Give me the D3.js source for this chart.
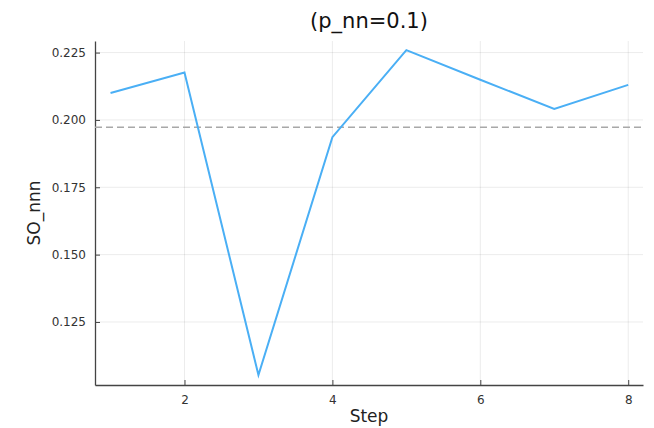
<!DOCTYPE html>
<html>
<head>
<meta charset="utf-8">
<script src="https://cdn.jsdelivr.net/npm/d3@7"></script>
<style>
  body { margin: 0; background: #fff; }
  svg { font-family: "DejaVu Sans", sans-serif; }
</style>
</head>
<body>
<svg id="drawing_region"></svg>
<script>
const steps = [1, 2, 3, 4, 5, 6, 7, 8];
const soValues = [0.2100, 0.2176, 0.1053, 0.1936, 0.2259, 0.2149, 0.2041, 0.2130];
const refValue = 0.1973;
const xTicks = [2, 4, 6, 8];
const yTicks = [0.125, 0.150, 0.175, 0.200, 0.225];

const config = {
    width: 654,
    height: 428,
    margin: {top: 41, right: 11, bottom: 43, left: 95}
};

const svg = d3.select('#drawing_region')
    .attr('width', config.width)
    .attr('height', config.height);

const innerW = config.width - config.margin.left - config.margin.right;
const innerH = config.height - config.margin.top - config.margin.bottom;

const chart = svg.append('g')
    .attr('transform', `translate(${config.margin.left}, ${config.margin.top})`);

const xScale = d3.scaleLinear().domain([0.79, 8.2]).range([0, innerW]);
const yScale = d3.scaleLinear().domain([0.1016, 0.2293]).range([innerH, 0]);

// grid
chart.selectAll('line.xgrid')
    .data(xTicks)
    .enter()
    .append('line')
    .attr('x1', d => xScale(d)).attr('x2', d => xScale(d))
    .attr('y1', 0).attr('y2', innerH)
    .attr('stroke', '#000').attr('stroke-opacity', 0.08).attr('stroke-width', 1);

chart.selectAll('line.ygrid')
    .data(yTicks)
    .enter()
    .append('line')
    .attr('x1', 0).attr('x2', innerW)
    .attr('y1', d => yScale(d)).attr('y2', d => yScale(d))
    .attr('stroke', '#000').attr('stroke-opacity', 0.08).attr('stroke-width', 1);

// axes
const xAxis = d3.axisBottom(xScale).tickValues(xTicks).tickFormat(d3.format('d'))
    .tickSizeInner(-5).tickSizeOuter(0).tickPadding(10);
const yAxis = d3.axisLeft(yScale).tickValues(yTicks).tickFormat(d3.format('.3f'))
    .tickSizeInner(-5).tickSizeOuter(0).tickPadding(9);

const gx = chart.append('g')
    .attr('transform', `translate(0, ${innerH})`)
    .call(xAxis);
const gy = chart.append('g').call(yAxis);

[gx, gy].forEach(g => {
    g.select('.domain').attr('stroke', '#444').attr('stroke-width', 1.3);
    g.selectAll('.tick line').attr('stroke', '#444').attr('stroke-width', 1);
    g.selectAll('.tick text')
        .attr('fill', '#333')
        .style('font-family', '"DejaVu Sans", sans-serif')
        .style('font-size', '12px');
});

// reference line
chart.append('line')
    .attr('x1', 0).attr('x2', innerW)
    .attr('y1', yScale(refValue)).attr('y2', yScale(refValue))
    .attr('stroke', '#a8a8a8')
    .attr('stroke-width', 1.5)
    .attr('stroke-dasharray', '7,4');

// series
const line = d3.line()
    .x((d, i) => xScale(steps[i]))
    .y(d => yScale(d));

chart.append('path')
    .datum(soValues)
    .attr('d', line)
    .attr('fill', 'none')
    .attr('stroke', '#4aaff5')
    .attr('stroke-width', 2);

// labels
svg.append('text')
    .attr('x', config.margin.left + innerW / 2)
    .attr('y', 28)
    .attr('text-anchor', 'middle')
    .attr('fill', '#111')
    .style('font-size', '21px')
    .text('(p_nn=0.1)');

svg.append('text')
    .attr('x', config.margin.left + innerW / 2)
    .attr('y', 422)
    .attr('text-anchor', 'middle')
    .attr('fill', '#222')
    .style('font-size', '17px')
    .text('Step');

svg.append('text')
    .attr('transform', `translate(40, ${config.margin.top + innerH / 2}) rotate(-90)`)
    .attr('text-anchor', 'middle')
    .attr('fill', '#222')
    .style('font-size', '17px')
    .text('SO_nnn');
</script>
</body>
</html>
